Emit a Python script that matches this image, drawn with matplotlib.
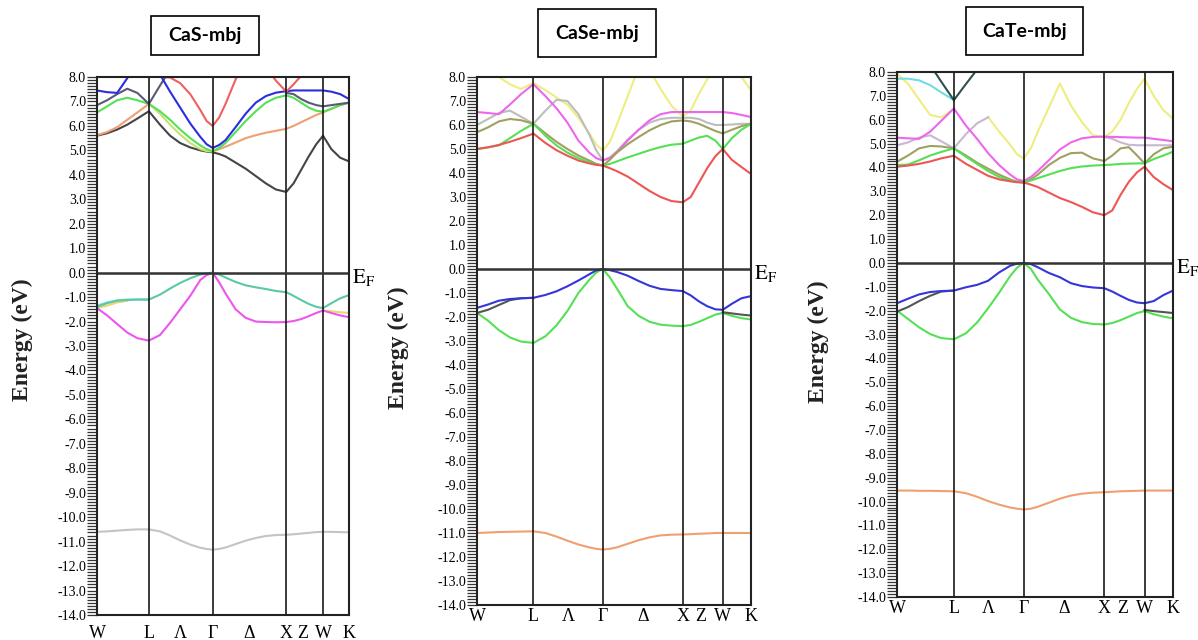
import numpy as np
import matplotlib
matplotlib.use("Agg")
import matplotlib.pyplot as plt
from matplotlib.patches import Rectangle
from matplotlib.ticker import MultipleLocator, FormatStrFormatter
from matplotlib.transforms import blended_transform_factory

plt.rcParams['axes.unicode_minus'] = False
plt.rcParams['mathtext.fontset'] = 'stix'

nan = np.nan

# k-path W-L-Γ-X-W-K as fraction of path length
k_path = [0.000, 0.040, 0.080, 0.120, 0.160, 0.206, 0.250, 0.290, 0.330, 0.370,
          0.410, 0.435, 0.459, 0.485, 0.510, 0.550, 0.590, 0.630, 0.670, 0.710,
          0.751, 0.780, 0.810, 0.840, 0.870, 0.897, 0.930, 0.965, 1.000]
sym_k = [0.206, 0.459, 0.751, 0.897]
tick_k = [0.0, 0.206, 0.332, 0.459, 0.605, 0.751, 0.818, 0.897, 1.0]
tick_labels = ["W", "L", "Λ", "Γ", "Δ", "X", "Z", "W", "K"]
titles = ["CaS-mbj", "CaSe-mbj", "CaTe-mbj"]

# ---- CaS ----
cas_c1 = [5.60, 5.70, 5.85, 6.05, 6.30, 6.60, 6.05, 5.60, 5.30, 5.12, 5.00, 4.95, 4.92, 4.85, 4.75,
          4.50, 4.25, 3.95, 3.65, 3.40, 3.30, 3.65, 4.20, 4.75, 5.25, 5.60, 5.05, 4.70, 4.55]
cas_c2 = [5.62, 5.75, 5.95, 6.25, 6.55, 6.90, nan, nan, nan, nan, nan, nan, 4.95, 5.05, 5.15,
          5.32, 5.50, 5.62, 5.72, 5.80, 5.88, 6.00, 6.15, 6.30, 6.45, 6.55, 6.70, 6.85, 6.95]
cas_c2b = [nan, nan, nan, nan, nan, 6.90, 6.50, 6.05, 5.65, 5.30, 5.05, 4.97, 4.95, nan, nan,
           nan, nan, nan, nan, nan, nan, nan, nan, nan, nan, nan, nan, nan, nan]
cas_c3 = [6.55, 6.80, 7.05, 7.15, 7.05, 6.90, 6.60, 6.25, 5.85, 5.50, 5.20, 5.05, 4.97, 5.10, 5.30,
          5.75, 6.20, 6.60, 6.95, 7.15, 7.25, 7.15, 6.95, 6.75, 6.62, 6.58, 6.70, 6.85, 6.95]
cas_c4 = [7.45, 7.38, 7.35, 7.95, 8.60, 9.00, 8.10, 7.40, 6.75, 6.10, 5.55, 5.25, 5.10, 5.22, 5.42,
          5.95, 6.50, 6.95, 7.22, 7.36, 7.42, 7.45, 7.45, 7.45, 7.45, 7.45, 7.40, 7.30, 7.10]
cas_c5 = [6.85, 7.05, 7.30, 7.52, 7.35, 6.90, 7.65, 8.30, nan, nan, nan, nan, nan, nan, nan,
          nan, nan, nan, nan, nan, 7.35, 7.30, 7.10, 6.95, 6.85, 6.80, 6.85, 6.90, 6.95]
cas_c6 = [nan, nan, nan, nan, nan, 8.30, 8.00, 7.98, 7.75, 7.30, 6.65, 6.20, 6.00, 6.35, 6.90,
          7.90, 8.80, nan, 8.40, 7.85, 7.40, 7.70, 8.05, 8.60, nan, nan, nan, nan, nan]
cas_v1 = [-1.40, -1.25, -1.15, -1.12, -1.10, -1.10, -0.90, -0.65, -0.42, -0.23, -0.08, -0.03, 0.00, -0.08, -0.20,
          -0.38, -0.52, -0.60, -0.67, -0.75, -0.80, -0.95, -1.12, -1.28, -1.40, -1.45, -1.25, -1.05, -0.92]
cas_v1b = [-1.35, -1.22, -1.13, -1.10, -1.10, -1.10, nan, nan, nan, nan, nan, nan, nan, nan, nan,
           nan, nan, nan, nan, nan, nan, nan, nan, nan, nan, nan, nan, nan, nan]
cas_v2 = [-1.45, -1.75, -2.10, -2.45, -2.68, -2.78, -2.55, -2.05, -1.50, -0.95, -0.30, -0.10, 0.00, -0.40, -0.85,
          -1.50, -1.85, -2.00, -2.02, -2.03, -2.02, -1.98, -1.90, -1.78, -1.65, -1.55, -1.65, -1.75, -1.82]
cas_v3 = [-1.45, -1.35, -1.22, -1.15, nan, nan, nan, nan, nan, nan, nan, nan, nan, nan, nan,
          nan, nan, nan, nan, nan, nan, nan, nan, nan, nan, -1.55, -1.58, -1.62, -1.65]
cas_low = [-10.60, -10.58, -10.55, -10.52, -10.50, -10.50, -10.58, -10.75, -10.95, -11.12, -11.25, -11.30, -11.33, -11.30, -11.24,
           -11.10, -10.96, -10.85, -10.77, -10.73, -10.72, -10.70, -10.67, -10.64, -10.61, -10.60, -10.60, -10.61, -10.62]

# ---- CaSe ----
case_c1 = [5.00, 5.07, 5.17, 5.30, 5.45, 5.64, 5.25, 4.95, 4.72, 4.52, 4.40, 4.34, 4.31, 4.20, 4.08,
           3.85, 3.55, 3.25, 3.00, 2.83, 2.78, 3.00, 3.60, 4.20, 4.70, 5.00, 4.55, 4.25, 3.96]
case_c2 = [5.00, 5.07, 5.15, 5.45, 5.75, 6.05, 5.55, 5.15, 4.85, 4.62, 4.45, 4.36, 4.31, 4.38, 4.48,
           4.65, 4.80, 4.95, 5.08, 5.18, 5.22, 5.35, 5.48, 5.55, 5.35, 5.00, 5.45, 5.80, 6.05]
case_c3 = [5.70, 5.90, 6.15, 6.25, 6.20, 6.05, 5.65, 5.30, 5.00, 4.73, 4.52, 4.38, 4.31, 4.55, 4.85,
           5.20, 5.50, 5.78, 6.00, 6.15, 6.19, 6.15, 6.05, 5.90, 5.75, 5.65, 5.80, 5.95, 6.05]
case_c4 = [6.00, 6.25, 6.50, 6.60, 6.35, 6.05, 6.60, 7.05, 7.00, 6.45, 5.60, 4.95, 4.52, 4.65, 4.90,
           5.40, 5.80, 6.10, 6.25, 6.30, 6.30, 6.30, 6.25, 6.10, 6.00, 6.00, 6.02, 6.05, 6.05]
case_c5 = [6.54, 6.50, 6.45, 6.85, 7.28, 7.70, 7.20, 6.70, 6.10, 5.35, 4.85, 4.62, 4.52, 4.62, 4.85,
           5.35, 5.80, 6.20, 6.45, 6.54, 6.54, 6.54, 6.54, 6.54, 6.54, 6.54, 6.50, 6.42, 6.33]
case_c6 = [8.60, 8.30, 8.00, 7.70, 7.50, 7.75, 7.45, 7.15, 6.85, 6.30, 5.65, 5.20, 4.93, 5.30, 6.00,
           7.20, 8.40, 8.30, 7.50, 6.80, 6.35, 6.60, 7.30, 7.90, 8.50, 9.00, 8.60, 8.00, 7.45]
case_v1 = [-1.62, -1.48, -1.32, -1.25, -1.22, -1.20, -1.08, -0.93, -0.72, -0.48, -0.22, -0.06, 0.00, -0.05, -0.12,
           -0.28, -0.50, -0.70, -0.83, -0.88, -0.92, -1.10, -1.35, -1.55, -1.68, -1.70, -1.45, -1.22, -1.13]
case_v2 = [-1.83, -1.70, -1.50, -1.30, -1.22, -1.20, nan, nan, nan, nan, nan, nan, nan, nan, nan,
           nan, nan, nan, nan, nan, nan, nan, nan, nan, nan, -1.80, -1.85, -1.90, -1.94]
case_v3 = [-1.83, -2.15, -2.55, -2.85, -3.02, -3.08, -2.80, -2.35, -1.75, -1.00, -0.45, -0.15, 0.00, -0.35, -0.80,
           -1.55, -1.95, -2.20, -2.32, -2.36, -2.38, -2.33, -2.20, -2.05, -1.90, -1.83, -1.95, -2.05, -2.10]
case_low = [-11.00, -10.98, -10.96, -10.95, -10.94, -10.93, -11.00, -11.15, -11.32, -11.48, -11.60, -11.66, -11.69, -11.66, -11.60,
            -11.45, -11.30, -11.18, -11.10, -11.07, -11.06, -11.05, -11.03, -11.02, -11.00, -11.00, -11.00, -11.00, -11.00]

# ---- CaTe ----
cate_c1 = [4.03, 4.08, 4.15, 4.25, 4.38, 4.49, 4.15, 3.90, 3.65, 3.50, 3.42, 3.38, 3.37, 3.28, 3.18,
           2.95, 2.72, 2.55, 2.35, 2.12, 2.00, 2.20, 2.85, 3.40, 3.80, 4.03, 3.60, 3.30, 3.05]
cate_c2 = [4.10, 4.12, 4.30, 4.50, 4.65, 4.80, 4.45, 4.15, 3.85, 3.60, 3.45, 3.40, 3.37, 3.45, 3.55,
           3.70, 3.85, 3.97, 4.04, 4.08, 4.10, 4.12, 4.15, 4.16, 4.17, 4.17, 4.35, 4.50, 4.66]
cate_c3 = [4.24, 4.50, 4.80, 4.90, 4.88, 4.80, 4.50, 4.20, 3.95, 3.70, 3.50, 3.40, 3.37, 3.50, 3.70,
           4.10, 4.40, 4.60, 4.62, 4.38, 4.27, 4.50, 4.80, 4.85, 4.50, 4.17, 4.55, 4.80, 4.87]
cate_c4 = [5.25, 5.22, 5.20, 5.50, 5.95, 6.47, 5.75, 5.20, 4.60, 4.10, 3.70, 3.50, 3.43, 3.60, 3.85,
           4.30, 4.75, 5.05, 5.22, 5.28, 5.29, 5.28, 5.27, 5.26, 5.25, 5.25, 5.20, 5.15, 5.10]
cate_c5 = [4.93, 5.05, 5.25, 5.35, 5.10, 4.80, 5.40, 5.85, 6.10, nan, nan, nan, nan, nan, nan,
           nan, nan, nan, nan, nan, 5.28, 5.20, 5.05, 4.95, 4.93, 4.93, 4.93, 4.93, 4.93]
cate_c6 = [nan, nan, nan, nan, nan, nan, nan, nan, 6.12, 5.50, 4.95, 4.55, 4.38, 4.80, 5.50,
           6.50, 7.52, 6.60, 5.90, 5.35, 5.28, 5.50, 6.00, 6.70, 7.30, 7.72, 7.00, 6.40, 6.05]
cate_c7 = [7.93, 7.50, 6.85, 6.20, 6.10, 6.45, nan, nan, nan, nan, nan, nan, nan, nan, nan,
           nan, nan, nan, nan, nan, nan, nan, nan, nan, nan, nan, nan, nan, nan]
cate_c8 = [7.72, 7.72, 7.65, 7.45, 7.15, 6.82, nan, nan, nan, nan, nan, nan, nan, nan, nan,
           nan, nan, nan, nan, nan, nan, nan, nan, nan, nan, nan, nan, nan, nan]
cate_c9 = [nan, nan, nan, 8.30, 7.60, 6.82, 7.50, 8.10, nan, nan, nan, nan, nan, nan, nan,
           nan, nan, nan, nan, nan, nan, nan, nan, nan, nan, nan, nan, nan, nan]
cate_v1 = [-1.69, -1.50, -1.32, -1.22, -1.18, -1.16, -1.02, -0.92, -0.75, -0.40, -0.12, -0.03, 0.00, -0.05, -0.18,
           -0.42, -0.60, -0.85, -0.97, -1.03, -1.06, -1.20, -1.38, -1.55, -1.66, -1.69, -1.60, -1.35, -1.16]
cate_v2 = [-2.04, -1.85, -1.60, -1.38, -1.20, -1.16, nan, nan, nan, nan, nan, nan, nan, nan, nan,
           nan, nan, nan, nan, nan, nan, nan, nan, nan, nan, -1.97, -2.02, -2.06, -2.10]
cate_v3 = [-2.00, -2.35, -2.70, -2.98, -3.15, -3.20, -2.95, -2.50, -1.90, -1.25, -0.55, -0.20, 0.00, -0.25, -0.70,
           -1.30, -1.95, -2.30, -2.48, -2.56, -2.58, -2.52, -2.40, -2.25, -2.10, -2.02, -2.15, -2.25, -2.32]
cate_low = [-9.54, -9.54, -9.55, -9.55, -9.56, -9.57, -9.65, -9.80, -9.98, -10.13, -10.25, -10.30, -10.33, -10.30, -10.22,
            -10.05, -9.88, -9.75, -9.67, -9.63, -9.61, -9.59, -9.57, -9.56, -9.55, -9.54, -9.54, -9.54, -9.54]

# band -> colour, per panel
panel_bands = [
    [(cas_low, "#c4c4c4"), (cas_v3, "#ecd870"), (cas_v2, "#ee55ee"), (cas_v1b, "#6fdde6"),
     (cas_v1, "#5cc8a4"), (cas_c1, "#454545"), (cas_c2, "#f0a070"), (cas_c2b, "#c8e070"),
     (cas_c3, "#55e055"), (cas_c5, "#5a5a78"), (cas_c4, "#2c2ce0"), (cas_c6, "#f06060")],
    [(case_low, "#f0a070"), (case_v3, "#55e055"), (case_v2, "#555555"), (case_v1, "#3535d8"),
     (case_c6, "#eeee80"), (case_c4, "#bdbdbd"), (case_c5, "#ee66ee"), (case_c3, "#a0a060"),
     (case_c2, "#55e055"), (case_c1, "#ee5555")],
    [(cate_low, "#f0a070"), (cate_v3, "#55e055"), (cate_v2, "#555555"), (cate_v1, "#3535d8"),
     (cate_c7, "#eeee80"), (cate_c6, "#eeee80"), (cate_c8, "#70dde0"), (cate_c9, "#2f5050"),
     (cate_c5, "#c8b8d0"), (cate_c4, "#ee66ee"), (cate_c3, "#a0a060"), (cate_c2, "#55e055"),
     (cate_c1, "#ee5555")],
]

W, H = 1198, 640
axes_px = [(97, 77, 349, 615), (477, 77, 751, 605), (897, 72, 1173, 597)]
title_px = [(151, 16, 259, 55), (538, 9, 656, 57), (966, 7, 1083, 55)]
ylabel_px = [(22, 340), (398, 348), (818, 342)]
xpad = [7, 2.5, 2.5]

fig = plt.figure(figsize=(W / 100, H / 100), dpi=100)

for i in range(3):
    l, t, r, b = axes_px[i]
    ax = fig.add_axes([l / W, 1 - b / H, (r - l) / W, (b - t) / H])
    for vals, col in panel_bands[i]:
        ax.plot(k_path, vals, color=col, lw=1.5, solid_joinstyle='round')
    for k in sym_k:
        ax.axvline(k, color="#1a1a1a", lw=1.2)
    ax.axhline(0, color="#333333", lw=1.8)
    ax.set_xlim(0, 1)
    ax.set_ylim(-14, 8)
    ax.yaxis.set_major_locator(MultipleLocator(1.0))
    ax.yaxis.set_minor_locator(MultipleLocator(0.125))
    ax.yaxis.set_major_formatter(FormatStrFormatter("%.1f"))
    ax.tick_params(axis='y', which='both', direction='out', length=7, width=0.9, color="#333333")
    ax.tick_params(axis='y', which='major', labelsize=10, pad=1)
    ax.set_xticks(tick_k)
    ax.set_xticklabels(tick_labels)
    ax.tick_params(axis='x', length=0, labelsize=13, pad=xpad[i])
    for lab in ax.get_yticklabels() + ax.get_xticklabels():
        lab.set_family("Liberation Serif")
    for s in ax.spines.values():
        s.set_linewidth(1.5)
        s.set_color("#222222")
    trans = blended_transform_factory(ax.transAxes, ax.transData)
    ax.text(1.012, -0.2, r"$\mathrm{E_F}$", transform=trans, fontsize=15,
            ha='left', va='center', clip_on=False)

    x0, y0, x1, y1 = title_px[i]
    fig.patches.append(Rectangle((x0 / W, 1 - y1 / H), (x1 - x0) / W, (y1 - y0) / H,
                                 transform=fig.transFigure, fill=False, ec="black", lw=1.2))
    fig.text((x0 + x1) / 2 / W, 1 - (y0 + y1) / 2 / H, titles[i], ha='center', va='center',
             fontsize=14, fontweight='bold', family='Lato')
    fig.text(ylabel_px[i][0] / W, 1 - ylabel_px[i][1] / H, "Energy (eV)", rotation=90,
             ha='center', va='center', fontsize=17, fontweight='bold', family='Liberation Serif',
             color="#222222")

fig.savefig("out.png", dpi=100)
